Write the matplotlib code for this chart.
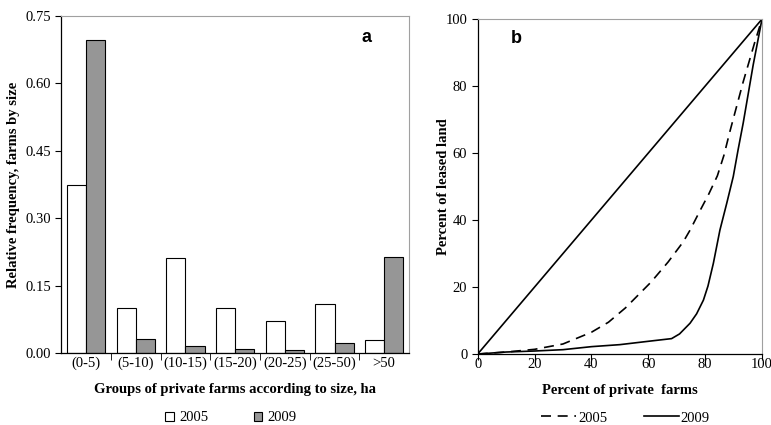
"""
Farm size distribution and Lorenz curves of leased land
"""
import numpy as np
import matplotlib
matplotlib.use('Agg')
import matplotlib.pyplot as plt

# Panel a data
size_groups = ['(0-5)', '(5-10)', '(10-15)', '(15-20)', '(20-25)', '(25-50)', '>50']
freq_2005 = [0.375, 0.101, 0.212, 0.101, 0.071, 0.109, 0.029]
freq_2009 = [0.697, 0.031, 0.017, 0.009, 0.007, 0.023, 0.214]

# Panel b data (cumulative percentages)
farms_2005 = [0, 10, 20, 30, 40, 46, 52, 61, 67, 72.3, 74.7, 78.2, 81.3,
              84.3, 86.6, 88.7, 93.4, 97.5, 100]
land_2005 = [0, 0.6, 1.4, 3.0, 6.5, 9.5, 13.8, 21.5, 27.5, 33.5, 37, 42.8,
             47.8, 53.2, 59.3, 66.4, 81.3, 93.2, 100]
farms_2009 = [0, 10, 20, 30, 40, 50, 60, 68.2, 71, 74.7, 77, 79.4, 81, 82.9,
              85.2, 87.6, 89.9, 91.6, 93.4, 96.9, 100]
land_2009 = [0, 0.6, 0.9, 1.3, 2.2, 2.8, 3.8, 4.6, 6.0, 9.2, 12, 16.1, 20.3,
             27.1, 37, 45, 53, 61, 69, 86.3, 100]
equality = [0, 100]

serif = 'Liberation Serif'
fontsize = 10.5

fig = plt.figure(figsize=(7.71, 4.25), dpi=100)

# ---- panel a
ax1 = fig.add_axes([0.0795, 0.1687, 0.451, 0.794])
x = np.arange(len(size_groups))
w = 0.385
b1 = ax1.bar(x - w / 2, freq_2005, w, color='white', edgecolor='black',
             linewidth=0.8, label='2005')
b2 = ax1.bar(x + w / 2, freq_2009, w, color='#969696', edgecolor='black',
             linewidth=0.8, label='2009')
ax1.set_xlim(-0.5, len(size_groups) - 0.5)
ax1.set_ylim(0, 0.75)
ax1.set_yticks(np.arange(0, 0.76, 0.15))
ax1.set_yticklabels([f'{v:.2f}' for v in np.arange(0, 0.76, 0.15)],
                    family=serif, fontsize=fontsize)
ax1.set_xticks(x)
ax1.set_xticklabels(size_groups, family=serif, fontsize=fontsize)
ax1.set_xticks(np.arange(0.5, len(size_groups) - 0.5, 1), minor=True)
ax1.tick_params(axis='x', which='major', length=0, pad=2.5)
ax1.tick_params(axis='x', which='minor', length=5, direction='out')
ax1.tick_params(axis='y', length=4, direction='out')
ax1.set_xlabel('Groups of private farms according to size, ha', family=serif,
               fontsize=fontsize, fontweight='bold', labelpad=9.5)
ax1.set_ylabel('Relative frequency, farms by size', family=serif,
               fontsize=fontsize, fontweight='bold', labelpad=4)
ax1.text(0.879, 0.937, 'a', transform=ax1.transAxes, family='Liberation Sans',
         fontsize=13, fontweight='bold', ha='center', va='center')

# ---- panel b
ax2 = fig.add_axes([0.6196, 0.167, 0.3687, 0.788])
ax2.plot(equality, equality, color='black', linewidth=1.2)
l1, = ax2.plot(farms_2005, land_2005, color='black', linewidth=1.2,
               dashes=(6, 4), label='2005')
l2, = ax2.plot(farms_2009, land_2009, color='black', linewidth=1.2,
               label='2009')
ax2.set_xlim(0, 100)
ax2.set_ylim(0, 100)
ax2.set_xticks(np.arange(0, 101, 20))
ax2.set_yticks(np.arange(0, 101, 20))
ax2.set_xticklabels([str(v) for v in range(0, 101, 20)], family=serif,
                    fontsize=fontsize)
ax2.set_yticklabels([str(v) for v in range(0, 101, 20)], family=serif,
                    fontsize=fontsize)
ax2.tick_params(length=4, direction='out')
ax2.tick_params(axis='x', pad=-1)
ax2.set_xlabel('Percent of private  farms', family=serif, fontsize=fontsize,
               fontweight='bold', labelpad=9)
ax2.set_ylabel('Percent of leased land', family=serif, fontsize=fontsize,
               fontweight='bold', labelpad=-3)
ax2.text(0.135, 0.943, 'b', transform=ax2.transAxes, family='Liberation Sans',
         fontsize=13, fontweight='bold', ha='center', va='center')

for ax in (ax1, ax2):
    ax.spines['top'].set_color('#a0a0a0')
    ax.spines['right'].set_color('#a0a0a0')
    for s in ('left', 'bottom'):
        ax.spines[s].set_linewidth(0.9)

leg_font = {'family': serif, 'size': fontsize}
fig.legend(handles=[b1, b2], loc='center', bbox_to_anchor=(0.2996, 0.0165),
           ncol=2, frameon=False, prop=leg_font, handlelength=0.6,
           handleheight=0.6, handletextpad=0.35, columnspacing=3.1,
           borderpad=0.1)
fig.legend(handles=[l1, l2], loc='center', bbox_to_anchor=(0.811, 0.0165),
           ncol=2, frameon=False, prop=leg_font, handlelength=2.4,
           handletextpad=0.1, columnspacing=2.5, borderpad=0.1)

plt.savefig('out.png', dpi=100)
